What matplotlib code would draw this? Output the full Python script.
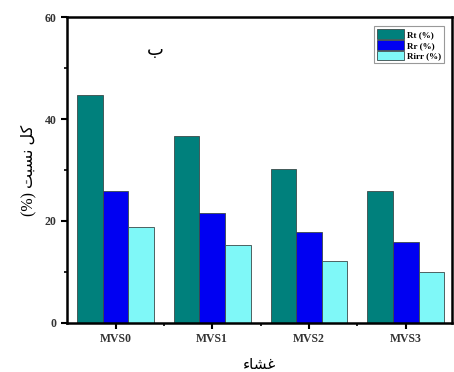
import numpy as np
import matplotlib
matplotlib.use("Agg")
from matplotlib import pyplot as plt
from matplotlib.ticker import MultipleLocator

# values
membranes = ["MVS0", "MVS1", "MVS2", "MVS3"]
rt = [44.7, 36.7, 30.1, 25.8]
rr = [25.9, 21.5, 17.8, 15.8]
rirr = [18.9, 15.2, 12.2, 10.0]
series_names = ["Rt (%)", "Rr (%)", "Rirr (%)"]

# Persian labels written in visual order with presentation forms
# (matplotlib does no bidi / arabic shaping)
ylab = "(%) \uFE96\uFE92\uFEB4\uFEE7 \uFEDE\uFB90"   # کل نسبت (%)
xlab = "\uFE80\uFE8E\uFEB8\uFECF"                    # غشاء
tag = "\u0628"                                       # ب

colors = ["#00807c", "#0000f2", "#7ff8f8"]
fam = ["Liberation Serif", "DejaVu Sans"]

fig = plt.figure(figsize=(4.54, 3.72), dpi=100)
ax = fig.add_axes([0.148, 0.132, 0.848, 0.822])

x = np.arange(len(membranes))
w = 0.265
for k, vals in enumerate([rt, rr, rirr]):
    ax.bar(x + (k - 1) * w, vals, w, color=colors[k], edgecolor="#3a4a4a",
           linewidth=0.6, label=series_names[k])

ax.set_xlim(-0.5, 3.48)
ax.set_ylim(0, 60)
ax.set_yticks([0, 20, 40, 60])
ax.yaxis.set_minor_locator(MultipleLocator(10))
ax.set_xticks(x)
ax.set_xticks(x[:-1] + 0.5, minor=True)
ax.set_xticklabels(membranes)
for lab in ax.get_xticklabels() + ax.get_yticklabels():
    lab.set_family(fam)
    lab.set_fontweight("bold")
    lab.set_fontsize(8.5)
    lab.set_color("#333333")

ax.tick_params(which="major", direction="out", length=4, width=1.5)
ax.tick_params(which="minor", direction="out", length=2.5, width=1.2)
for s in ax.spines.values():
    s.set_linewidth(1.8)

ax.set_ylabel(ylab, family=fam, fontsize=11.5, labelpad=6)
ax.set_xlabel(xlab, family=fam, fontsize=11, labelpad=10)
ax.text(0.41, 53.5, tag, family=fam, fontsize=13, ha="center", va="center")

leg = ax.legend(loc="upper right", prop={"family": fam, "weight": "bold", "size": 6.5},
                handlelength=3.0, handleheight=1.3, borderpad=0.3,
                labelspacing=0.1, handletextpad=0.3, fancybox=False,
                framealpha=1, edgecolor="#999999", bbox_to_anchor=(0.99, 0.985))
leg.get_frame().set_linewidth(0.8)

fig.savefig("out.png", dpi=100)
